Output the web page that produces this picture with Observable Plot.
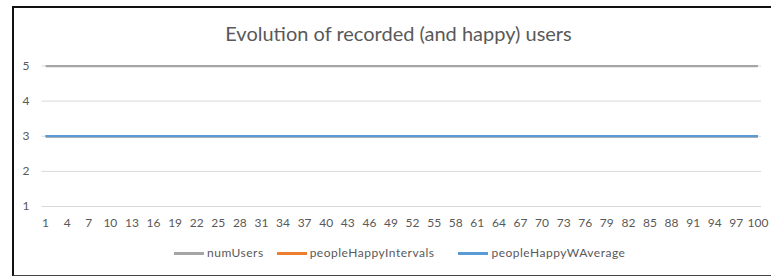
<!DOCTYPE html>
<html>
<head>
<meta charset="utf-8">
<script src="https://cdn.jsdelivr.net/npm/d3@7"></script>
<script src="https://cdn.jsdelivr.net/npm/@observablehq/plot@0.6"></script>
<style>
  html, body { margin: 0; padding: 0; background: #fff; overflow: hidden; }
  #wrap { position: relative; width: 771px; height: 276px; overflow: hidden; font-family: Lato, "Open Sans", sans-serif; }
  #frame { position: absolute; left: 12px; top: 6px; width: 800px; height: 267px; border-left: 2px solid #111; border-top: 2px solid #111; border-bottom: 1px solid #444; }
  #title { position: absolute; left: 0; top: 21px; width: 797px; text-align: center; font-size: 20px; line-height: 24px; color: #595959; }
  #chart { position: absolute; left: 0; top: 0; }
  #legend { position: absolute; left: 174px; top: 245px; display: flex; align-items: center; font-size: 12px; letter-spacing: 0.5px; color: #595959; line-height: 16px; }
  .item { display: flex; align-items: center; }
  .sw { width: 30px; height: 3px; margin-right: 3px; }
</style>
</head>
<body>
<div id="wrap">
  <div id="frame"></div>
  <div id="title">Evolution of recorded (and happy) users</div>
  <div id="chart"></div>
  <div id="legend"></div>
</div>
<script>
const categories = [1,2,3,4,5,6,7,8,9,10,11,12,13,14,15,16,17,18,19,20,21,22,23,24,25,26,27,28,29,30,31,32,33,34,35,36,37,38,39,40,41,42,43,44,45,46,47,48,49,50,51,52,53,54,55,56,57,58,59,60,61,62,63,64,65,66,67,68,69,70,71,72,73,74,75,76,77,78,79,80,81,82,83,84,85,86,87,88,89,90,91,92,93,94,95,96,97,98,99,100];
const numUsers = [5,5,5,5,5,5,5,5,5,5,5,5,5,5,5,5,5,5,5,5,5,5,5,5,5,5,5,5,5,5,5,5,5,5,5,5,5,5,5,5,5,5,5,5,5,5,5,5,5,5,5,5,5,5,5,5,5,5,5,5,5,5,5,5,5,5,5,5,5,5,5,5,5,5,5,5,5,5,5,5,5,5,5,5,5,5,5,5,5,5,5,5,5,5,5,5,5,5,5,5];
const peopleHappyIntervals = [3,3,3,3,3,3,3,3,3,3,3,3,3,3,3,3,3,3,3,3,3,3,3,3,3,3,3,3,3,3,3,3,3,3,3,3,3,3,3,3,3,3,3,3,3,3,3,3,3,3,3,3,3,3,3,3,3,3,3,3,3,3,3,3,3,3,3,3,3,3,3,3,3,3,3,3,3,3,3,3,3,3,3,3,3,3,3,3,3,3,3,3,3,3,3,3,3,3,3,3];
const peopleHappyWAverage = [3,3,3,3,3,3,3,3,3,3,3,3,3,3,3,3,3,3,3,3,3,3,3,3,3,3,3,3,3,3,3,3,3,3,3,3,3,3,3,3,3,3,3,3,3,3,3,3,3,3,3,3,3,3,3,3,3,3,3,3,3,3,3,3,3,3,3,3,3,3,3,3,3,3,3,3,3,3,3,3,3,3,3,3,3,3,3,3,3,3,3,3,3,3,3,3,3,3,3,3];
const xTickLabels = [1,4,7,10,13,16,19,22,25,28,31,34,37,40,43,46,49,52,55,58,61,64,67,70,73,76,79,82,85,88,91,94,97,100];
const yTickLabels = [1,2,3,4,5];
const seriesNames = ["numUsers", "peopleHappyIntervals", "peopleHappyWAverage"];
const seriesColors = ["#a5a5a5", "#ed7d31", "#5b9bd5"];
const seriesValues = [numUsers, peopleHappyIntervals, peopleHappyWAverage];
const legendGaps = [13, 24, 0];

const rows = seriesNames.map((name, s) => categories.map((c, i) => ({x: c, y: seriesValues[s][i], series: name})));

const chart = Plot.plot({
  width: 771,
  height: 232,
  marginLeft: 41.5,
  marginRight: 10,
  marginTop: 65.5,
  marginBottom: 26,
  style: {fontFamily: "Lato, 'Open Sans', sans-serif", fontSize: "12px", color: "#595959", background: "transparent", overflow: "visible"},
  x: {type: "linear", domain: [0.5, 100.5], ticks: xTickLabels, tickFormat: "d", tickSize: 0, tickPadding: 12, label: null},
  y: {domain: [1, 5], ticks: yTickLabels, tickFormat: "d", tickSize: 0, tickPadding: 12.5, label: null},
  marks: [
    Plot.gridY(yTickLabels, {stroke: "#d9d9d9", strokeOpacity: 1, strokeWidth: 1}),
    ...rows.map((r, s) => Plot.lineY(r, {x: "x", y: "y", stroke: seriesColors[s], strokeWidth: s === 0 ? 2.25 : 2.5, strokeLinecap: "butt"}))
  ]
});
document.getElementById("chart").appendChild(chart);

const legend = document.getElementById("legend");
seriesNames.forEach((name, s) => {
  const item = document.createElement("div");
  item.className = "item";
  item.style.marginRight = legendGaps[s] + "px";
  const sw = document.createElement("span");
  sw.className = "sw";
  sw.style.background = seriesColors[s];
  const t = document.createElement("span");
  t.textContent = name;
  item.appendChild(sw);
  item.appendChild(t);
  legend.appendChild(item);
});
</script>
</body>
</html>
